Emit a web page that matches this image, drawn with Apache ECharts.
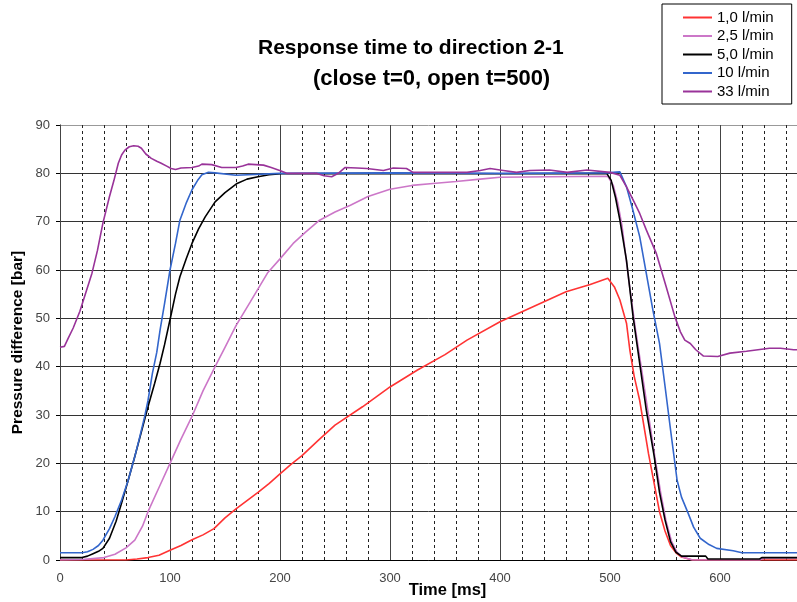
<!DOCTYPE html>
<html>
<head>
<meta charset="utf-8">
<script src="https://cdn.jsdelivr.net/npm/echarts@6/dist/echarts.min.js"></script>
<style>
  html, body { margin: 0; padding: 0; background: #fff; }
  #chart { width: 797px; height: 602px; }
</style>
</head>
<body>
<div id="chart"></div>
<script>
// series names
const seriesNames = ['1,0 l/min', '2,5 l/min', '5,0 l/min', '10 l/min', '33 l/min'];
const seriesColors = ['#ff3333', '#cc77c8', '#000000', '#3366cc', '#993399'];

// [time ms, pressure bar]
const flow10 = [
  [0, 0], [60, 0], [70, 0.2], [80, 0.5], [90, 1], [100, 2], [110, 3], [120, 4.2], [130, 5.2],
  [140, 6.5], [150, 8.7], [160, 10.6], [170, 12.3], [180, 14], [190, 15.8], [200, 17.8],
  [210, 19.8], [220, 21.6], [235, 24.8], [250, 27.9], [275, 31.7], [300, 35.8], [325, 39.3],
  [350, 42.5], [370, 45.5], [400, 49.3], [430, 52.4], [460, 55.5], [482, 57], [498, 58.3],
  [504, 56.5], [509, 53.8], [515, 49], [518, 43.5], [522, 38], [527, 33], [535, 22], [540, 16],
  [545, 10], [550, 6], [555, 3], [560, 1.5], [565, 0.6], [575, 0], [670, 0]
];
const flow25 = [
  [0, 0], [20, 0.1], [40, 0.5], [50, 1.2], [60, 2.5], [68, 4.1], [75, 7], [80, 10], [90, 15],
  [100, 20], [110, 25], [120, 29.7], [130, 35], [141, 40], [150, 44], [160, 48.5], [173, 53.4],
  [189, 59.5], [200, 62.3], [212, 65.5], [223, 67.8], [236, 70.3], [250, 72], [264, 73.4],
  [280, 75.2], [300, 76.7], [320, 77.5], [339, 77.9], [360, 78.3], [382, 78.8], [400, 79.2],
  [445, 79.3], [498, 79.4], [503, 77.5], [507, 74], [511, 69], [517, 58], [523, 48], [529, 39],
  [535, 30], [541, 21], [546, 14], [551, 8], [556, 3.8], [561, 1.6], [566, 0.6], [575, 0],
  [636, 0], [640, 0.4], [670, 0.4]
];
const flow50 = [
  [0, 0.5], [20, 0.5], [25, 0.8], [30, 1.3], [35, 1.8], [39, 2.4], [45, 4.5], [51, 8],
  [56, 11.8], [62, 16.5], [68, 21.4], [74, 26.5], [80, 31.7], [86, 36.5], [91, 40.7],
  [95, 44.5], [100, 49.7], [105, 55], [109, 58.6], [115, 62.5], [120, 65.5], [126, 68.5],
  [132, 71], [141, 74.1], [150, 76], [161, 77.9], [170, 78.8], [180, 79.3], [190, 79.7],
  [201, 79.9], [300, 80], [400, 79.9], [497, 80], [501, 78.6], [505, 75], [509, 70.3],
  [515, 62], [521, 50.3], [527, 40.7], [533, 31], [540, 21.7], [545, 14], [550, 8.3],
  [555, 3.8], [560, 1.6], [565, 0.8], [587, 0.8], [589, 0.2], [636, 0.2], [638, 0.5], [670, 0.5]
];
const flow100 = [
  [0, 1.5], [20, 1.5], [25, 1.7], [30, 2.2], [35, 3], [39, 4.1], [45, 6.5], [50, 9], [56, 12.4],
  [62, 16.5], [68, 21.4], [72, 25], [77, 29.7], [80, 33], [84, 38.6], [88, 43], [91, 47.6],
  [95, 53], [100, 60], [105, 65.5], [109, 70.3], [115, 74], [120, 76.6], [125, 78.5],
  [129, 79.7], [135, 80.2], [141, 80.1], [160, 79.6], [200, 80], [300, 80.1], [400, 80],
  [497, 80.1], [509, 80.3], [515, 77.2], [520, 73.1], [527, 66.9], [533, 59.3], [539, 51.7],
  [545, 44.8], [550, 36], [555, 27], [561, 16.5], [565, 13], [571, 9.7], [576, 6.8], [582, 4.5],
  [590, 3.2], [597, 2.4], [612, 1.9], [620, 1.5], [670, 1.5]
];
const flow330 = [
  [0, 44], [4, 44.2], [7.5, 45.9], [12, 48], [18, 51.4], [23, 55], [29, 59.3], [34, 64],
  [39, 69.7], [45, 75.2], [49, 78.5], [53, 82.1], [56, 83.8], [59, 84.8], [63, 85.5], [67, 85.7],
  [71, 85.6], [74, 85.2], [78, 84], [83, 83.1], [88, 82.5], [92, 82.1], [97, 81.5], [101, 81],
  [105, 80.8], [110, 81.1], [120, 81.2], [126, 81.5], [129, 81.9], [138, 81.8], [147, 81.2],
  [160, 81.2], [166, 81.5], [171, 81.9], [185, 81.7], [192, 81.2], [201, 80.5], [206, 80],
  [233, 80], [240, 79.5], [247, 79.3], [253, 80], [259, 81.2], [270, 81.1], [279, 81],
  [294, 80.6], [303, 81.1], [315, 81], [321, 80.2], [370, 80.2], [382, 80.6], [391, 81],
  [403, 80.6], [415, 80.2], [427, 80.6], [445, 80.7], [461, 80.2], [479, 80.7], [500, 80.2],
  [509, 79.6], [515, 77.2], [521, 74.5], [527, 71.7], [533, 68.3], [542, 63.5], [551, 56.6],
  [559, 50.3], [564, 47.2], [568, 45.5], [573, 44.8], [578, 43.5], [585, 42.2], [598, 42.1],
  [609, 42.8], [624, 43.2], [645, 43.8], [655, 43.8], [667, 43.5], [670, 43.5]
];
const seriesData = [flow10, flow25, flow50, flow100, flow330];

// axis range
const xMin = 0, xMax = 670, xMajor = 100, xMinor = 20;
const yMin = 0, yMax = 90, yStep = 10;

const font = 'Liberation Sans, Arial, sans-serif';

var myChart = echarts.init(document.getElementById('chart'));

const option = {
  animation: false,
  backgroundColor: '#fff',
  title: [
    {
      text: 'Response time to direction 2-1',
      left: 253, top: 33,
      textStyle: { fontFamily: font, fontSize: 21, fontWeight: 'bold', color: '#000' }
    },
    {
      text: '(close t=0, open t=500)',
      left: 308, top: 63,
      textStyle: { fontFamily: font, fontSize: 22, fontWeight: 'bold', color: '#000' }
    }
  ],
  legend: {
    orient: 'vertical',
    left: 662, top: 4,
    padding: [6, 18, 5, 20],
    itemWidth: 29, itemHeight: 14, itemGap: 3.5,
    borderColor: '#000', borderWidth: 1,
    backgroundColor: '#fff',
    itemStyle: { opacity: 0 },
    textStyle: { fontFamily: font, fontSize: 15, lineHeight: 15, color: '#000' },
    data: seriesNames
  },
  grid: { left: 60, right: 0, top: 125, bottom: 42, outerBoundsMode: 'none' },
  xAxis: [
    {
      type: 'value', min: xMin, max: xMax, interval: xMajor, z: 2,
      name: 'Time [ms]', nameLocation: 'middle', nameGap: 22, nameMoveOverlap: false,
      nameTextStyle: { fontFamily: font, fontSize: 16.5, fontWeight: 'bold', color: '#000', padding: [0, 0, 0, 38] },
      axisLine: { show: true, lineStyle: { color: '#000', width: 1 } },
      axisTick: { show: false },
      axisLabel: { showMaxLabel: false, margin: 12, fontFamily: font, fontSize: 13, color: '#444' },
      splitLine: { show: true, lineStyle: { color: '#444', width: 1 } }
    },
    {
      type: 'value', min: xMin, max: xMax, interval: xMinor, z: 1,
      axisLine: { show: false }, axisTick: { show: false }, axisLabel: { show: false },
      splitLine: {
        show: true,
        lineStyle: { color: ['transparent', '#222', '#222', '#222', '#222'], type: [3, 3], width: 1 }
      }
    }
  ],
  yAxis: {
    type: 'value', min: yMin, max: yMax, interval: yStep,
    name: 'Pressure difference [bar]', nameLocation: 'middle', nameGap: 34, nameMoveOverlap: false,
    nameTextStyle: { fontFamily: font, fontSize: 15.5, fontWeight: 'bold', color: '#000' },
    axisLine: { show: true, lineStyle: { color: '#000', width: 1 } },
    axisTick: { show: true, length: 4, lineStyle: { color: '#000' } },
    axisLabel: { margin: 10, fontFamily: font, fontSize: 13, color: '#444' },
    splitLine: {
      show: true,
      lineStyle: { color: ['#333', '#333', '#333', '#333', '#333', '#333', '#333', '#333', '#333', '#999'], width: 1 }
    }
  },
  series: seriesData.map((d, i) => ({
    name: seriesNames[i],
    type: 'line',
    xAxisIndex: 0,
    data: d,
    symbol: 'none',
    lineStyle: { color: seriesColors[i], width: 1.6 },
    itemStyle: { color: seriesColors[i] },
    z: 3
  }))
};

myChart.setOption(option);
window.addEventListener('resize', () => {
  myChart.resize();
});
</script>
</body>
</html>
